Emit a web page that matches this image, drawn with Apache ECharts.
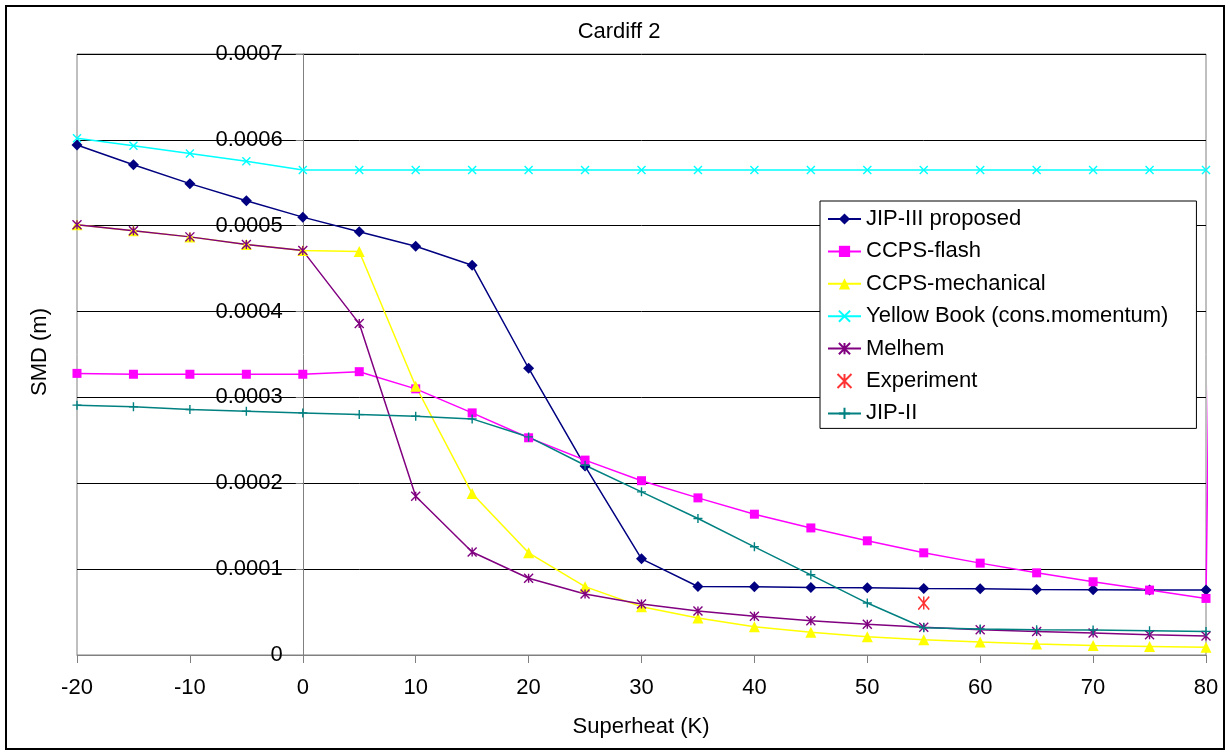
<!DOCTYPE html>
<html>
<head>
<meta charset="utf-8">
<script src="https://cdn.jsdelivr.net/npm/echarts@6/dist/echarts.min.js"></script>
<style>
  html, body { margin: 0; padding: 0; background: #fff; }
  #chart { width: 1230px; height: 755px; }
</style>
</head>
<body>
<div id="chart"></div>
<script>
// Superheat (K) at which every model was evaluated
const superheat = [-20, -15, -10, -5, 0, 5, 10, 15, 20, 25, 30, 35, 40, 45, 50, 55, 60, 65, 70, 75, 80];

// Sauter mean diameter (m) per model
const jip3Proposed = [0.000594, 0.000571, 0.000549, 0.000529, 0.000510, 0.000493, 0.000476, 0.000454, 0.000334, 0.000220, 0.000112,
  0.0000798, 0.0000795, 0.0000787, 0.0000783, 0.0000775, 0.0000771, 0.0000764, 0.0000760, 0.0000756, 0.0000756];
const ccpsFlash = [0.000328, 0.000327, 0.000327, 0.000327, 0.000327, 0.000330, 0.000310, 0.000282, 0.000253, 0.000227, 0.000203,
  0.000183, 0.000164, 0.000148, 0.000133, 0.000119, 0.000107, 0.0000957, 0.0000853, 0.0000756, 0.0000659];
// one further CCPS-flash point lies far above the plotted range
const ccpsFlashTail = [85, 0.0052];
const ccpsMechanical = [0.000501, 0.000494, 0.000487, 0.000478, 0.000471, 0.000470, 0.000313, 0.000188, 0.000119, 0.0000796, 0.0000563,
  0.0000430, 0.0000329, 0.0000264, 0.0000213, 0.0000178, 0.0000151, 0.0000128, 0.0000112, 0.0000100, 0.0000089];
const yellowBook = [0.000602, 0.000593, 0.000584, 0.000575, 0.000565, 0.000565, 0.000565, 0.000565, 0.000565, 0.000565, 0.000565,
  0.000565, 0.000565, 0.000565, 0.000565, 0.000565, 0.000565, 0.000565, 0.000565, 0.000565, 0.000565];
const melhem = [0.000501, 0.000494, 0.000487, 0.000478, 0.000471, 0.000386, 0.000185, 0.000120, 0.0000894, 0.0000711, 0.0000594,
  0.0000512, 0.0000450, 0.0000400, 0.0000357, 0.0000322, 0.0000295, 0.0000275, 0.0000256, 0.0000236, 0.0000221];
const jip2 = [0.000291, 0.000289, 0.000286, 0.000284, 0.000282, 0.000280, 0.000278, 0.000275, 0.000254, 0.000221, 0.000190,
  0.000159, 0.000126, 0.0000934, 0.0000605, 0.0000318, 0.0000302, 0.0000295, 0.0000291, 0.0000283, 0.0000275];
const experimentX = [55];
const experimentSMD = [0.0000605];

const seriesNames = ['JIP-III proposed', 'CCPS-flash', 'CCPS-mechanical', 'Yellow Book (cons.momentum)', 'Melhem', 'Experiment', 'JIP-II'];

const FONT = '"Liberation Sans", Arial, sans-serif';
const CROSS = 'path://M0,0L10,10M10,0L0,10';
const STAR = 'path://M0,0L10,10M10,0L0,10M5,0L5,10';
const PLUS = 'path://M5,0L5,10M0,5L10,5';

// plot frame and the superheat at which the SMD axis crosses
const GRID = { left: 77, right: 24, top: 54, bottom: 100 };
const X_MIN = -20, X_MAX = 80, Y_CROSS_AT = 0;
const plotWidth = 1230 - GRID.left - GRID.right;
const yAxisShift = -plotWidth * (Y_CROSS_AT - X_MIN) / (X_MAX - X_MIN);

const pairs = (xs, ys) => ys.map((y, i) => [xs[i], y]);

function lineSeries(name, values, color, symbol, size, stroked) {
  return {
    name: name,
    type: 'line',
    data: pairs(superheat, values),
    symbol: symbol,
    symbolSize: size,
    showAllSymbol: true,
    lineStyle: { color: color, width: 1.5 },
    itemStyle: stroked
      ? { color: color, borderColor: color, borderWidth: 1.4 }
      : { color: color, borderWidth: 0 },
    emphasis: { disabled: true }
  };
}

const flashSeries = lineSeries(seriesNames[1], ccpsFlash, '#FF00FF', 'rect', 9, false);
flashSeries.data.push(ccpsFlashTail);
flashSeries.clip = false;

const option = {
  animation: false,
  backgroundColor: '#ffffff',
  grid: {
    left: GRID.left, right: GRID.right, top: GRID.top, bottom: GRID.bottom,
    containLabel: false, outerBoundsMode: 'none',
    show: true, borderColor: '#808080', borderWidth: 1, backgroundColor: 'transparent'
  },
  xAxis: {
    type: 'value', min: X_MIN, max: X_MAX, interval: 10,
    axisLine: { show: true, onZero: false, lineStyle: { color: '#808080', width: 1 } },
    axisTick: { show: true, length: 8, lineStyle: { color: '#808080' } },
    axisLabel: { margin: 22, fontSize: 22, color: '#000', fontFamily: FONT },
    splitLine: { show: false }
  },
  yAxis: {
    type: 'value', min: 0, max: 0.0007, interval: 0.0001,
    offset: yAxisShift,
    axisLine: { show: true, onZero: false, lineStyle: { color: '#808080', width: 1 } },
    axisTick: { show: true, length: 7, lineStyle: { color: '#808080' } },
    axisLabel: {
      margin: 20, fontSize: 22, color: '#000', fontFamily: FONT,
      formatter: v => (v === 0 ? '0' : v.toFixed(4))
    },
    splitLine: { show: true, lineStyle: { color: '#000', width: 1 } }
  },
  legend: {
    orient: 'vertical', left: 820, top: 201,
    padding: [7, 28, 4, 7],
    itemWidth: 33, itemHeight: 14, itemGap: 10.4,
    backgroundColor: '#fff', borderColor: '#000', borderWidth: 1,
    selectedMode: false,
    textStyle: { fontSize: 22, lineHeight: 22, color: '#000', fontFamily: FONT },
    data: seriesNames
  },
  graphic: [
    { type: 'text', x: 619, y: 32, style: { text: 'Cardiff 2', align: 'center', verticalAlign: 'middle', font: '22px ' + FONT, fill: '#000' } },
    { type: 'text', x: 641, y: 727, style: { text: 'Superheat (K)', align: 'center', verticalAlign: 'middle', font: '22px ' + FONT, fill: '#000' } },
    { type: 'text', x: 40, y: 352, rotation: Math.PI / 2, style: { text: 'SMD (m)', align: 'center', verticalAlign: 'middle', font: '22px ' + FONT, fill: '#000' } },
    { type: 'rect', shape: { x: 6, y: 6, width: 1218, height: 743 }, style: { fill: null, stroke: '#000', lineWidth: 2 }, silent: true }
  ],
  series: [
    lineSeries(seriesNames[0], jip3Proposed, '#000080', 'diamond', 11, false),
    flashSeries,
    lineSeries(seriesNames[2], ccpsMechanical, '#FFFF00', 'triangle', 11, false),
    lineSeries(seriesNames[3], yellowBook, '#00FFFF', CROSS, 8, true),
    lineSeries(seriesNames[4], melhem, '#800080', STAR, 9, true),
    {
      name: seriesNames[5],
      type: 'scatter',
      data: pairs(experimentX, experimentSMD),
      symbol: STAR,
      symbolSize: [11, 13],
      itemStyle: { color: '#FF0000', borderColor: '#FF0000', borderWidth: 1.6 },
      emphasis: { disabled: true }
    },
    lineSeries(seriesNames[6], jip2, '#008080', PLUS, 9, true)
  ]
};

const chart = echarts.init(document.getElementById('chart'), null, { renderer: 'canvas' });
chart.setOption(option);
</script>
</body>
</html>
